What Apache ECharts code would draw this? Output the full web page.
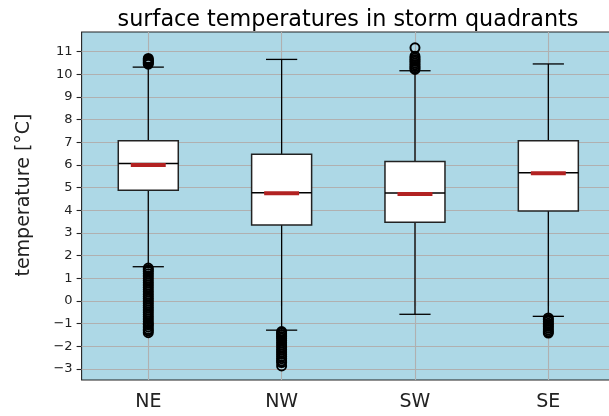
<!DOCTYPE html>
<html><head><meta charset="utf-8">
<script src="https://cdn.jsdelivr.net/npm/echarts@6/dist/echarts.min.js"></script>
<style>html,body{margin:0;padding:0;background:#fff}#c{width:609px;height:416px}</style>
</head><body><div id="c"></div>
<script>
const categories = ['NE', 'NW', 'SW', 'SE'];
const lowerWhisker = [1.51, -1.29, -0.59, -0.68];
const q1 = [4.88, 3.35, 3.47, 3.97];
const median = [6.07, 4.78, 4.76, 5.66];
const q3 = [7.07, 6.47, 6.15, 7.07];
const upperWhisker = [10.32, 10.66, 10.16, 10.46];
const mean = [6.0, 4.75, 4.72, 5.64];
const outliersNE = [10.45, 10.5, 10.55, 10.6, 10.65, 10.7,
  1.45, 1.38, 1.3, 1.2, 1.1, 1.0, 0.9, 0.8, 0.7, 0.6, 0.5, 0.4, 0.3, 0.2, 0.1, 0.0,
  -0.1, -0.2, -0.3, -0.4, -0.5, -0.6, -0.7, -0.8, -0.9, -1.0, -1.05, -1.15, -1.25, -1.32, -1.4];
const outliersNW = [-1.35, -1.42, -1.5, -1.58, -1.65, -1.75, -1.85, -1.95, -2.05, -2.15,
  -2.25, -2.35, -2.45, -2.55, -2.65, -2.72, -2.87];
const outliersSW = [11.17, 10.8, 10.72, 10.65, 10.58, 10.5, 10.42, 10.35, 10.28, 10.22];
const outliersSE = [-0.75, -0.82, -0.9, -0.98, -1.05, -1.12, -1.2, -1.28, -1.36, -1.42];
const yTicks = [-3, -2, -1, 0, 1, 2, 3, 4, 5, 6, 7, 8, 9, 10, 11];

const outlierLists = [outliersNE, outliersNW, outliersSW, outliersSE];
const boxData = categories.map((c, i) => [i, lowerWhisker[i], q1[i], median[i], q3[i], upperWhisker[i], mean[i]]);
const outlierData = [];
outlierLists.forEach((list, i) => list.forEach(v => outlierData.push([i, v])));

const FONT = 'DejaVu Sans';
const chart = echarts.init(document.getElementById('c'), null, {renderer: 'canvas'});
chart.setOption({
  animation: false,
  title: {
    text: 'surface temperatures in storm quadrants',
    left: 348, top: 9, padding: 0, textAlign: 'center',
    textStyle: {fontSize: 22.3, fontWeight: 'normal', fontFamily: FONT, color: '#000'}
  },
  grid: {
    left: 81.6, right: -6, top: 32, bottom: 36,
    show: true, backgroundColor: '#add8e6', borderColor: '#222', borderWidth: 1.1,
    outerBoundsMode: 'none', containLabel: false
  },
  xAxis: {
    type: 'category', data: categories, boundaryGap: true,
    axisLine: {show: false},
    axisTick: {show: true, alignWithLabel: true, length: 5, lineStyle: {color: '#222', width: 1.1}},
    axisLabel: {fontSize: 19, fontFamily: FONT, color: '#222', margin: 13},
    splitLine: {show: false}
  },
  yAxis: {
    type: 'value', min: -3.49, max: 11.87,
    axisLine: {show: false},
    splitLine: {show: false},
    axisTick: {show: true, length: 5, customValues: yTicks, lineStyle: {color: '#222', width: 1.1}},
    axisLabel: {customValues: yTicks, fontSize: 13, fontFamily: FONT, color: '#222', margin: 9,
      formatter: v => String(v).replace('-', '\u2212')},
    name: 'temperature [°C]', nameLocation: 'middle', nameGap: 48,
    nameTextStyle: {fontSize: 19, fontFamily: FONT, color: '#222', padding: [0, 0, 0, 22]}
  },
  series: [
    {
      type: 'scatter', data: [], z: 1, silent: true,
      markLine: {
        z: 1, silent: true, symbol: 'none', label: {show: false}, animation: false,
        lineStyle: {type: 'solid', color: '#b0b0b0', width: 1.1},
        data: yTicks.map(v => ({yAxis: v})).concat(categories.map(c => ({xAxis: c})))
      }
    },
    {
      type: 'custom', z: 3, data: boxData,
      encode: {x: 0, y: [1, 2, 3, 4, 5, 6]},
      renderItem: function (params, api) {
        const i = api.value(0);
        const band = api.size([1, 0])[0];
        const x = api.coord([i, 0])[0];
        const y = v => api.coord([i, v])[1];
        const bw = band * 0.225, cw = band * 0.117, mw = band * 0.131;
        const lw = y(api.value(1)), a = y(api.value(2)), m = y(api.value(3)),
              b = y(api.value(4)), uw = y(api.value(5)), mn = y(api.value(6));
        const st = {stroke: '#000', lineWidth: 1.3};
        return {
          type: 'group',
          children: [
            {type: 'line', shape: {x1: x, y1: lw, x2: x, y2: a}, style: st},
            {type: 'line', shape: {x1: x, y1: b, x2: x, y2: uw}, style: st},
            {type: 'line', shape: {x1: x - cw, y1: lw, x2: x + cw, y2: lw}, style: st},
            {type: 'line', shape: {x1: x - cw, y1: uw, x2: x + cw, y2: uw}, style: st},
            {type: 'rect', shape: {x: x - bw, y: b, width: 2 * bw, height: a - b},
              style: {fill: '#fff', stroke: '#222', lineWidth: 1.5}},
            {type: 'line', shape: {x1: x - bw, y1: m, x2: x + bw, y2: m}, style: {stroke: '#000', lineWidth: 1.5}},
            {type: 'line', shape: {x1: x - mw, y1: mn, x2: x + mw, y2: mn}, style: {stroke: '#b22222', lineWidth: 4}}
          ]
        };
      }
    },
    {
      type: 'scatter', z: 4, data: outlierData, symbol: 'circle', symbolSize: 9,
      itemStyle: {color: 'rgba(0,0,0,0)', borderColor: '#000', borderWidth: 2, opacity: 1}
    }
  ]
});
</script>
</body></html>
